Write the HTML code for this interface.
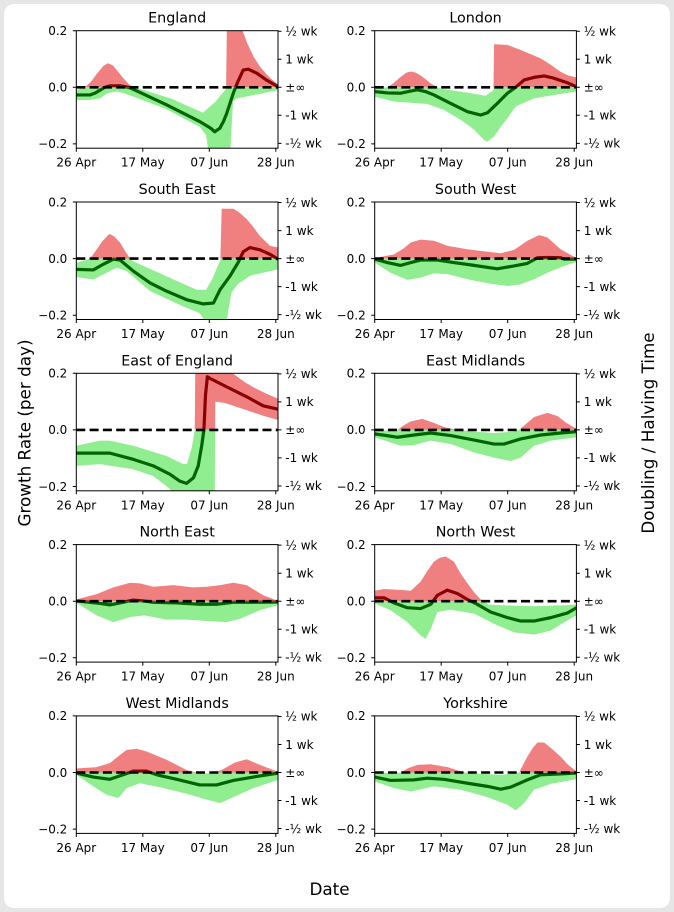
<!DOCTYPE html>
<html><head><meta charset="utf-8"><style>
html,body{margin:0;padding:0;background:#e6e6e6;}
svg{display:block;font-family:"DejaVu Sans","Liberation Sans",sans-serif;}
.tk{font-size:12px;fill:#000;}
.l{text-anchor:end;}
.b{text-anchor:middle;}
.t{font-size:14.3px;text-anchor:middle;}
.lr{fill:none;stroke:#8b0000;stroke-width:3.2;stroke-linejoin:round;stroke-linecap:round;}
.lg{fill:none;stroke:#006400;stroke-width:3.2;stroke-linejoin:round;stroke-linecap:round;}
.z{stroke:#000;stroke-width:2.6;stroke-dasharray:9 4.3;}
</style></head><body>
<svg width="674" height="912" viewBox="0 0 674 912" xmlns="http://www.w3.org/2000/svg">
<defs>
<clipPath id="cp"><rect x="0" y="-56.6" width="201.7" height="56.6"/></clipPath>
<clipPath id="cn"><rect x="0" y="0" width="201.7" height="60.9"/></clipPath>
<g id="ax" fill="none" stroke="#000" stroke-width="1">
<rect x="0" y="-56.6" width="201.7" height="117.5"/>
<path d="M-3.5,-56.6H0M-3.5,0H0M-3.5,56.6H0M0,60.9V64.4M66.5,60.9V64.4M133,60.9V64.4M199.5,60.9V64.4M201.7,-56.05H205.2M201.7,-28H205.2M201.7,0H205.2M201.7,28H205.2M201.7,56.05H205.2"/>
</g>
<polygon id="b1" points="0,-1 2.7,0 4.5,1.8 6.5,4.8 8.5,7.5 10,8.5 11.5,7.8 13,5.8 15,3 16.5,1.2 18,0 20,-0.5 30,-4 40,-9 44,-5 47.3,-0.5 47.6,26 51.5,24 52.5,20 54,15.5 56,10.8 58,7.3 60,4.7 62,2.5 63.7,1 63.7,-1 55,-3 50.5,-4 49.5,-5 48.5,-25 42,-25 41,-17 39,-14 28,-7.5 18,-3.3 16,-2.5 13,-1.5 10,-2 7.5,-3.9 4,-4.5 0,-4.5"/>
<polyline id="c1" vector-effect="non-scaling-stroke" points="0,-2.7 4.3,-2.7 6,-2 7.5,-1 9,0 10.6,0.5 13.8,0.5 16.4,0 18,-0.7 28.5,-6.2 39,-12.1 42.5,-14.5 43.7,-15.7 45.3,-14.5 46.5,-12 47.5,-9.2 49.6,-2 50.8,1.4 52.7,6.1 54.3,6.4 57,5 60,2.6 63.7,0.2"/>
<polygon id="b2" points="0,-0.5 4,0 6,1.5 8,3.5 10,5.2 11.5,5.6 13,5.2 15,3.8 17.5,1.5 19.8,0 21,-0.5 30,-2 35,-3 37.5,-1 37.7,15.2 41.9,15 46,13.2 49,11.8 52.4,10.2 55.5,8 58.7,5.5 61,4.2 63.7,3.5 63.7,-1.5 56.6,-2.7 50.3,-3.9 44.5,-6.8 41.9,-11 39.8,-13.9 37.7,-17.4 35.6,-19.2 34.5,-18.6 31.4,-15 27.2,-11.5 21.9,-8 16.6,-5.9 6,-5 0,-3.3"/>
<polyline id="c2" vector-effect="non-scaling-stroke" points="0,-1.5 4,-2 8.2,-2.1 11,-1.4 13.5,-0.9 16,-1.5 18.7,-2.7 24,-5.7 29.3,-8.6 33.5,-9.8 35.6,-9 38.7,-5.7 41.9,-2.1 44.5,0 47.2,2.6 50.3,3.5 53.5,4 56.6,3.2 60.8,1.6 63.7,0.2"/>
<polygon id="b3" points="0,-1.5 3,-0.5 4.3,0 6,2.5 8,5.8 10,8.3 10.6,8.7 12,7.8 13.8,5.7 15.5,2.5 17,0 18,-1 28,-6 38,-11 41,-11 43,-7 45.5,-0.5 45.9,17.6 49.6,17.6 51.5,16.3 53.8,14 56,11 58,8 61.2,4.5 63.7,3.9 63.7,-3.8 55,-6 51,-9 49,-12 47,-25 42.2,-25 39,-19.3 33.8,-16.9 23.3,-11.5 15.9,-4.4 12.7,-3.2 9.6,-5 5.4,-7.4 0,-6.5"/>
<polyline id="c3" vector-effect="non-scaling-stroke" points="0,-3.8 5.4,-4 8.5,-2 11.7,-0.2 13.8,-0.5 18,-4.4 23.3,-8.6 28.5,-11.5 34.8,-14.5 40.1,-16 43.3,-15.7 45.4,-11 48.5,-6.2 51.2,-1.2 52.7,2.4 54.8,3.9 58,3.1 61.2,1.5 63.7,-0.2"/>
<polygon id="b4" points="0,0.2 6.1,1.5 9,3.5 11.4,5.7 14.5,6.7 18.7,6.3 23,4.5 29.3,3.3 35.6,2.4 39.8,1.9 44,3.1 48.2,6.3 51.9,8.3 54.5,7.5 58.7,3.3 63.7,0.2 63.7,-1.2 59.8,-2.6 54.5,-5 50.3,-7.3 46,-9.1 41.9,-9.7 35.6,-8.7 29.3,-7.3 23,-5.5 18.7,-5.2 14.5,-6.7 10.3,-7.5 5,-5 0,-1.4"/>
<polyline id="c4" vector-effect="non-scaling-stroke" points="0,-0.2 4,-1.4 8.2,-2.4 11.4,-1.4 14.5,-0.5 19.8,-0.5 25,-1.4 31.4,-2.4 38.7,-3.6 44,-2.6 48.2,-1.7 51.4,0.3 55,0.4 58.7,0.3 59.8,-0.2 63.7,-0.2"/>
<polygon id="b5" points="0,-5.6 7.5,-3.8 10.6,-3.8 18,-5.6 28.5,-9.2 33.8,-12.1 35,-12 36.5,-6 37.4,0 37.6,26 48,21 50,19.5 53,17 56,15 60,12.8 63.7,11 63.7,3.5 59,5 55,6.5 51,8 47,9.5 43.9,10 43.7,-25 31,-25 30.6,-22 28.5,-19.9 24.3,-16.3 18,-13.9 7.5,-12.1 0,-12.7"/>
<polyline id="c5" vector-effect="non-scaling-stroke" points="0,-8.2 10.6,-8.2 18,-10.4 24.3,-12.7 29.6,-15.7 32.7,-18.1 34.8,-18.9 37,-16.9 38.5,-12.7 39.6,-5.6 40.3,0 40.8,12.3 41.4,18.8 42.2,18.2 47.5,15.2 53.8,11.7 59,8.5 63.7,7.3"/>
<polygon id="b6" points="0,-0.4 7.2,0 9,1.5 11.4,3 15,3.9 18.7,2.5 22,1 26.1,0 31.4,-0.6 37.7,-1.1 44,-0.6 45.6,0 48,2.3 50.3,4.5 54.5,6 57.7,4.9 60.5,2.5 63.7,0.4 63.7,-2.6 55.6,-3.8 50.3,-5.6 46.1,-9.8 42.9,-11 37.7,-9.8 31.4,-8 24,-5 17.7,-3.8 12.4,-5.4 8.2,-5.6 0,-2.6"/>
<polyline id="c6" vector-effect="non-scaling-stroke" points="0,-1.4 7.2,-2.6 12.4,-1.8 17.7,-1.1 24,-2 31.4,-3.6 37.7,-5 40.8,-5 46.1,-3.2 52.4,-1.8 58.7,-1.1 63.7,-0.6"/>
<polygon id="b7" points="0,0.6 6.4,2.5 11.7,4.9 17,6.5 20.1,6.3 24.3,5.1 30.6,5.7 36.7,4.9 41.2,5.1 45.4,5.7 49.6,6.5 53.8,5.7 59,2.1 63.7,0.1 63.7,-1.4 58,-3.2 51.7,-6.2 47.5,-7.4 41.2,-7 34.8,-6.5 28.5,-6.5 21.5,-5 17,-5.6 11.7,-7.4 6.4,-5 0,-0.6"/>
<polyline id="c7" vector-effect="non-scaling-stroke" points="0,0.1 7.5,-0.8 10.6,-1.3 13.8,-0.6 18,0.4 21.2,0.1 24.3,-0.4 31.7,-0.6 39,-1.1 44.3,-1.1 49.6,-0.4 55.9,-0.4 63.7,-0.3"/>
<polygon id="b8" points="0,3.7 3,4.3 8,4 11.4,3.7 14.5,6.9 16.5,10.5 18.7,14 20.5,15.3 22.4,15.8 25,14 27,10 29.3,6.3 31.5,3 33.5,0.6 34.5,0 36,-1.2 41.9,-1.5 50.3,-1.8 60.8,-1.4 63.7,-1.1 63.7,-5 60.8,-6.8 55.6,-10.4 50.3,-11.8 44,-11 37.7,-8 31.4,-4.4 24,-3 19.8,-3.8 17.7,-9.8 16.1,-13.3 14.5,-12.1 10.3,-7.4 5,-3.2 0,-0.8"/>
<polyline id="c8" vector-effect="non-scaling-stroke" points="0,1.2 3,1.2 6.1,-0.6 10.3,-2.3 14.5,-2.6 17.7,-1.1 19.8,2.1 22.9,3.9 26.1,2.7 29.3,0.6 32.4,-1.1 36.6,-3.8 41.9,-5.8 46.1,-7 50.3,-7 55.6,-5.8 60.8,-4.2 63.7,-2.3"/>
<polygon id="b9" points="0,1.4 6.4,1.9 10.6,3.3 13,5.5 15.9,8 19.1,8.4 22.2,7.4 28.5,4.5 34.8,0.9 39,-0.3 43.3,-0.3 46.4,1.2 50,3.5 53.8,4.7 58,2.7 63.7,0.2 63.7,-2.6 55.9,-5.5 49.6,-8.7 45.4,-10.8 41.2,-9.6 34.8,-7.5 26.4,-5.2 20.1,-3.8 15.9,-5.5 13.3,-9 9.6,-7.9 5.4,-4.9 0,-0.8"/>
<polyline id="c9" vector-effect="non-scaling-stroke" points="0,-0.2 5.4,-1.6 10.6,-2.4 14.8,-0.8 18,0.5 22.2,0.5 25.4,-0.8 31.7,-2.4 39,-4.4 44.3,-4.4 49.6,-2.8 55.9,-1.6 63.7,-0.2"/>
<polygon id="b10" points="0,-0.2 8.2,0 10.5,1.5 13.5,2.7 17.7,2.9 23,1.9 27.2,0.4 29.3,-0.2 39.8,-0.8 44,-0.3 45.6,0 48.2,5.6 50,8.8 51.4,10.6 53.5,10.6 56,8.3 58.7,5.6 61,2.8 63.7,0.4 63.7,-2.4 55.6,-4 50.3,-6.1 47.2,-10.8 44.5,-13.4 41.9,-11.4 35.6,-8.7 27.2,-6.1 18.7,-4.9 11.4,-6.7 6.1,-5.5 0,-3.2"/>
<polyline id="c10" vector-effect="non-scaling-stroke" points="0,-1.6 5,-2.8 12.4,-2.6 16.6,-2 21.9,-2.4 29.3,-3.8 35.6,-4.9 39.8,-5.9 42.9,-5.2 48.2,-2.6 52.4,-0.8 58.7,-0.5 63.7,-0.2"/>
</defs>
<rect x="0" y="0" width="674" height="912" fill="#e6e6e6"/>
<rect x="4" y="4" width="666" height="904" rx="10" fill="#ffffff"/>

<!-- Panel 1 England -->
<g transform="translate(76.3,87.3)">
<text class="t" x="100.85" y="-64.6">England</text>
<g clip-path="url(#cp)"><g transform="scale(3.1667,-2.831)"><use href="#b1" fill="#f08080"/><use href="#c1" class="lr"/></g></g>
<g clip-path="url(#cn)"><g transform="scale(3.1667,-2.831)"><use href="#b1" fill="#90ee90"/><use href="#c1" class="lg"/></g></g>
<line class="z" x1="0" y1="0" x2="201.7" y2="0"/>
<use href="#ax"/>
<g class="tk"><text class="l" x="-9" y="-52.3">0.2</text><text class="l" x="-9" y="4.3">0.0</text><text class="l" x="-9" y="60.9">−0.2</text>
<text class="b" x="0" y="79.4">26 Apr</text><text class="b" x="66.5" y="79.4">17 May</text><text class="b" x="133" y="79.4">07 Jun</text><text class="b" x="199.5" y="79.4">28 Jun</text>
<text x="209" y="-51.8">½ wk</text><text x="209" y="-23.7">1 wk</text><text x="209" y="4.3">±∞</text><text x="209" y="32.3">-1 wk</text><text x="209" y="60.3">-½ wk</text></g>
</g>

<!-- Panel 2 London -->
<g transform="translate(374.7,87.3)">
<text class="t" x="100.85" y="-64.6">London</text>
<g clip-path="url(#cp)"><g transform="scale(3.1667,-2.831)"><use href="#b2" fill="#f08080"/><use href="#c2" class="lr"/></g></g>
<g clip-path="url(#cn)"><g transform="scale(3.1667,-2.831)"><use href="#b2" fill="#90ee90"/><use href="#c2" class="lg"/></g></g>
<line class="z" x1="0" y1="0" x2="201.7" y2="0"/>
<use href="#ax"/>
<g class="tk"><text class="l" x="-9" y="-52.3">0.2</text><text class="l" x="-9" y="4.3">0.0</text><text class="l" x="-9" y="60.9">−0.2</text>
<text class="b" x="0" y="79.4">26 Apr</text><text class="b" x="66.5" y="79.4">17 May</text><text class="b" x="133" y="79.4">07 Jun</text><text class="b" x="199.5" y="79.4">28 Jun</text>
<text x="209" y="-51.8">½ wk</text><text x="209" y="-23.7">1 wk</text><text x="209" y="4.3">±∞</text><text x="209" y="32.3">-1 wk</text><text x="209" y="60.3">-½ wk</text></g>
</g>

<!-- Panel 3 South East -->
<g transform="translate(76.3,258.6)">
<text class="t" x="100.85" y="-64.6">South East</text>
<g clip-path="url(#cp)"><g transform="scale(3.1667,-2.831)"><use href="#b3" fill="#f08080"/><use href="#c3" class="lr"/></g></g>
<g clip-path="url(#cn)"><g transform="scale(3.1667,-2.831)"><use href="#b3" fill="#90ee90"/><use href="#c3" class="lg"/></g></g>
<line class="z" x1="0" y1="0" x2="201.7" y2="0"/>
<use href="#ax"/>
<g class="tk"><text class="l" x="-9" y="-52.3">0.2</text><text class="l" x="-9" y="4.3">0.0</text><text class="l" x="-9" y="60.9">−0.2</text>
<text class="b" x="0" y="79.4">26 Apr</text><text class="b" x="66.5" y="79.4">17 May</text><text class="b" x="133" y="79.4">07 Jun</text><text class="b" x="199.5" y="79.4">28 Jun</text>
<text x="209" y="-51.8">½ wk</text><text x="209" y="-23.7">1 wk</text><text x="209" y="4.3">±∞</text><text x="209" y="32.3">-1 wk</text><text x="209" y="60.3">-½ wk</text></g>
</g>

<!-- Panel 4 South West -->
<g transform="translate(374.7,258.6)">
<text class="t" x="100.85" y="-64.6">South West</text>
<g clip-path="url(#cp)"><g transform="scale(3.1667,-2.831)"><use href="#b4" fill="#f08080"/><use href="#c4" class="lr"/></g></g>
<g clip-path="url(#cn)"><g transform="scale(3.1667,-2.831)"><use href="#b4" fill="#90ee90"/><use href="#c4" class="lg"/></g></g>
<line class="z" x1="0" y1="0" x2="201.7" y2="0"/>
<use href="#ax"/>
<g class="tk"><text class="l" x="-9" y="-52.3">0.2</text><text class="l" x="-9" y="4.3">0.0</text><text class="l" x="-9" y="60.9">−0.2</text>
<text class="b" x="0" y="79.4">26 Apr</text><text class="b" x="66.5" y="79.4">17 May</text><text class="b" x="133" y="79.4">07 Jun</text><text class="b" x="199.5" y="79.4">28 Jun</text>
<text x="209" y="-51.8">½ wk</text><text x="209" y="-23.7">1 wk</text><text x="209" y="4.3">±∞</text><text x="209" y="32.3">-1 wk</text><text x="209" y="60.3">-½ wk</text></g>
</g>

<!-- Panel 5 East of England -->
<g transform="translate(76.3,429.9)">
<text class="t" x="100.85" y="-64.6">East of England</text>
<g clip-path="url(#cp)"><g transform="scale(3.1667,-2.831)"><use href="#b5" fill="#f08080"/><use href="#c5" class="lr"/></g></g>
<g clip-path="url(#cn)"><g transform="scale(3.1667,-2.831)"><use href="#b5" fill="#90ee90"/><use href="#c5" class="lg"/></g></g>
<line class="z" x1="0" y1="0" x2="201.7" y2="0"/>
<use href="#ax"/>
<g class="tk"><text class="l" x="-9" y="-52.3">0.2</text><text class="l" x="-9" y="4.3">0.0</text><text class="l" x="-9" y="60.9">−0.2</text>
<text class="b" x="0" y="79.4">26 Apr</text><text class="b" x="66.5" y="79.4">17 May</text><text class="b" x="133" y="79.4">07 Jun</text><text class="b" x="199.5" y="79.4">28 Jun</text>
<text x="209" y="-51.8">½ wk</text><text x="209" y="-23.7">1 wk</text><text x="209" y="4.3">±∞</text><text x="209" y="32.3">-1 wk</text><text x="209" y="60.3">-½ wk</text></g>
</g>

<!-- Panel 6 East Midlands -->
<g transform="translate(374.7,429.9)">
<text class="t" x="100.85" y="-64.6">East Midlands</text>
<g clip-path="url(#cp)"><g transform="scale(3.1667,-2.831)"><use href="#b6" fill="#f08080"/><use href="#c6" class="lr"/></g></g>
<g clip-path="url(#cn)"><g transform="scale(3.1667,-2.831)"><use href="#b6" fill="#90ee90"/><use href="#c6" class="lg"/></g></g>
<line class="z" x1="0" y1="0" x2="201.7" y2="0"/>
<use href="#ax"/>
<g class="tk"><text class="l" x="-9" y="-52.3">0.2</text><text class="l" x="-9" y="4.3">0.0</text><text class="l" x="-9" y="60.9">−0.2</text>
<text class="b" x="0" y="79.4">26 Apr</text><text class="b" x="66.5" y="79.4">17 May</text><text class="b" x="133" y="79.4">07 Jun</text><text class="b" x="199.5" y="79.4">28 Jun</text>
<text x="209" y="-51.8">½ wk</text><text x="209" y="-23.7">1 wk</text><text x="209" y="4.3">±∞</text><text x="209" y="32.3">-1 wk</text><text x="209" y="60.3">-½ wk</text></g>
</g>

<!-- Panel 7 North East -->
<g transform="translate(76.3,601.2)">
<text class="t" x="100.85" y="-64.6">North East</text>
<g clip-path="url(#cp)"><g transform="scale(3.1667,-2.831)"><use href="#b7" fill="#f08080"/><use href="#c7" class="lr"/></g></g>
<g clip-path="url(#cn)"><g transform="scale(3.1667,-2.831)"><use href="#b7" fill="#90ee90"/><use href="#c7" class="lg"/></g></g>
<line class="z" x1="0" y1="0" x2="201.7" y2="0"/>
<use href="#ax"/>
<g class="tk"><text class="l" x="-9" y="-52.3">0.2</text><text class="l" x="-9" y="4.3">0.0</text><text class="l" x="-9" y="60.9">−0.2</text>
<text class="b" x="0" y="79.4">26 Apr</text><text class="b" x="66.5" y="79.4">17 May</text><text class="b" x="133" y="79.4">07 Jun</text><text class="b" x="199.5" y="79.4">28 Jun</text>
<text x="209" y="-51.8">½ wk</text><text x="209" y="-23.7">1 wk</text><text x="209" y="4.3">±∞</text><text x="209" y="32.3">-1 wk</text><text x="209" y="60.3">-½ wk</text></g>
</g>

<!-- Panel 8 North West -->
<g transform="translate(374.7,601.2)">
<text class="t" x="100.85" y="-64.6">North West</text>
<g clip-path="url(#cp)"><g transform="scale(3.1667,-2.831)"><use href="#b8" fill="#f08080"/><use href="#c8" class="lr"/></g></g>
<g clip-path="url(#cn)"><g transform="scale(3.1667,-2.831)"><use href="#b8" fill="#90ee90"/><use href="#c8" class="lg"/></g></g>
<line class="z" x1="0" y1="0" x2="201.7" y2="0"/>
<use href="#ax"/>
<g class="tk"><text class="l" x="-9" y="-52.3">0.2</text><text class="l" x="-9" y="4.3">0.0</text><text class="l" x="-9" y="60.9">−0.2</text>
<text class="b" x="0" y="79.4">26 Apr</text><text class="b" x="66.5" y="79.4">17 May</text><text class="b" x="133" y="79.4">07 Jun</text><text class="b" x="199.5" y="79.4">28 Jun</text>
<text x="209" y="-51.8">½ wk</text><text x="209" y="-23.7">1 wk</text><text x="209" y="4.3">±∞</text><text x="209" y="32.3">-1 wk</text><text x="209" y="60.3">-½ wk</text></g>
</g>

<!-- Panel 9 West Midlands -->
<g transform="translate(76.3,772.5)">
<text class="t" x="100.85" y="-64.6">West Midlands</text>
<g clip-path="url(#cp)"><g transform="scale(3.1667,-2.831)"><use href="#b9" fill="#f08080"/><use href="#c9" class="lr"/></g></g>
<g clip-path="url(#cn)"><g transform="scale(3.1667,-2.831)"><use href="#b9" fill="#90ee90"/><use href="#c9" class="lg"/></g></g>
<line class="z" x1="0" y1="0" x2="201.7" y2="0"/>
<use href="#ax"/>
<g class="tk"><text class="l" x="-9" y="-52.3">0.2</text><text class="l" x="-9" y="4.3">0.0</text><text class="l" x="-9" y="60.9">−0.2</text>
<text class="b" x="0" y="79.4">26 Apr</text><text class="b" x="66.5" y="79.4">17 May</text><text class="b" x="133" y="79.4">07 Jun</text><text class="b" x="199.5" y="79.4">28 Jun</text>
<text x="209" y="-51.8">½ wk</text><text x="209" y="-23.7">1 wk</text><text x="209" y="4.3">±∞</text><text x="209" y="32.3">-1 wk</text><text x="209" y="60.3">-½ wk</text></g>
</g>

<!-- Panel 10 Yorkshire -->
<g transform="translate(374.7,772.5)">
<text class="t" x="100.85" y="-64.6">Yorkshire</text>
<g clip-path="url(#cp)"><g transform="scale(3.1667,-2.831)"><use href="#b10" fill="#f08080"/><use href="#c10" class="lr"/></g></g>
<g clip-path="url(#cn)"><g transform="scale(3.1667,-2.831)"><use href="#b10" fill="#90ee90"/><use href="#c10" class="lg"/></g></g>
<line class="z" x1="0" y1="0" x2="201.7" y2="0"/>
<use href="#ax"/>
<g class="tk"><text class="l" x="-9" y="-52.3">0.2</text><text class="l" x="-9" y="4.3">0.0</text><text class="l" x="-9" y="60.9">−0.2</text>
<text class="b" x="0" y="79.4">26 Apr</text><text class="b" x="66.5" y="79.4">17 May</text><text class="b" x="133" y="79.4">07 Jun</text><text class="b" x="199.5" y="79.4">28 Jun</text>
<text x="209" y="-51.8">½ wk</text><text x="209" y="-23.7">1 wk</text><text x="209" y="4.3">±∞</text><text x="209" y="32.3">-1 wk</text><text x="209" y="60.3">-½ wk</text></g>
</g>

<text x="0" y="0" transform="translate(30.5,433) rotate(-90)" text-anchor="middle" font-size="16.8">Growth Rate (per day)</text>
<text x="0" y="0" transform="translate(654,433) rotate(-90)" text-anchor="middle" font-size="16.8">Doubling / Halving Time</text>
<text x="329.5" y="895" text-anchor="middle" font-size="16.8">Date</text>
</svg>
</body></html>
